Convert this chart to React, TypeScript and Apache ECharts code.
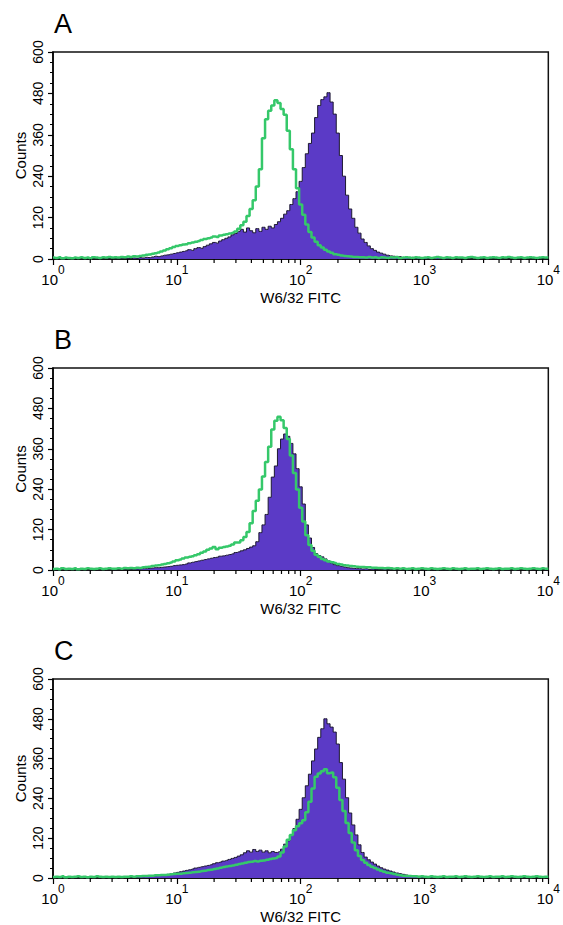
import React, { useEffect, useRef } from 'react';
import * as echarts from 'echarts';

// histogram channel width in log10 units (channel i sits at 10^(i*BIN_STEP))
const BIN_STEP = 0.025;
const X_EXPONENTS = [0, 1, 2, 3, 4];
const MINOR_MULTIPLIERS = [2, 3, 4, 5, 6, 7, 8, 9];
const PANEL_LABELS = ['A', 'B', 'C'];
const X_TITLE = 'W6/32 FITC';
const Y_TITLE = 'Counts';

// Panel A
const greenA = [
  4, 3, 5, 2, 4, 3, 2, 4, 3, 5, 3, 4, 2, 5, 4, 3, 5, 4, 6, 4,
  5, 4, 6, 5, 7, 6, 8, 7, 9, 10, 12, 13, 15, 17, 19, 22, 25, 28, 31, 35,
  38, 40, 42, 43, 46, 48, 50, 52, 55, 58, 60, 62, 65, 64, 68, 70, 72, 74, 76, 80,
  88, 98, 108, 125, 145, 170, 210, 260, 350, 405, 430, 445, 460, 452, 435, 418, 372, 318, 260, 205,
  158, 128, 100, 78, 62, 50, 40, 33, 27, 22, 18, 14, 12, 10, 9, 8, 7, 6, 6, 5,
  5, 4, 6, 4, 5, 3, 5, 4, 3, 5, 4, 6, 3, 4, 5, 4, 3, 5, 4, 3,
  4, 5, 3, 4, 6, 4, 3, 5, 4, 3, 5, 4, 4, 3, 5, 6, 4, 3, 4, 5,
  3, 4, 5, 4, 3, 5, 4, 6, 4, 3, 4, 5, 3, 4, 5, 4, 3, 4, 5, 4,
  4,
];
const purpleA = [
  0, 0, 1, 0, 0, 1, 0, 0, 1, 0, 0, 1, 0, 1, 0, 1, 0, 2, 1, 0,
  1, 0, 2, 1, 2, 1, 3, 2, 4, 3, 5, 4, 6, 8, 7, 9, 11, 12, 14, 16,
  18, 20, 22, 24, 27, 25, 30, 33, 31, 36, 40, 44, 48, 46, 52, 56, 60, 64, 70, 74,
  80, 86, 78, 90, 82, 76, 88, 80, 92, 86, 95, 90, 100, 108, 118, 130, 140, 158, 175, 195,
  225, 265, 305, 335, 365, 410, 445, 462, 470, 482, 455, 420, 365, 300, 240, 185, 145, 118, 92, 75,
  58, 48, 38, 30, 25, 20, 17, 14, 11, 9, 8, 6, 7, 4, 6, 3, 5, 2, 4, 3,
  4, 2, 3, 1, 4, 2, 0, 3, 1, 2, 0, 1, 2, 0, 1, 0, 1, 0, 0, 1,
  0, 0, 1, 0, 0, 0, 1, 0, 0, 0, 0, 1, 0, 0, 0, 0, 0, 1, 0, 0,
  0,
];

// Panel B
const greenB = [
  3, 4, 2, 5, 3, 4, 3, 5, 2, 4, 3, 5, 4, 3, 4, 5, 3, 4, 5, 4,
  4, 5, 4, 6, 5, 6, 5, 7, 6, 8, 9, 10, 12, 13, 14, 16, 18, 20, 22, 25,
  29, 31, 34, 37, 39, 41, 44, 47, 51, 55, 60, 64, 68, 62, 66, 68, 70, 72, 76, 82,
  82, 88, 98, 113, 139, 175, 206, 239, 278, 321, 366, 417, 443, 455, 445, 422, 389, 340, 288, 239,
  185, 144, 103, 74, 57, 45, 39, 33, 29, 25, 23, 21, 18, 16, 14, 13, 12, 11, 10, 9,
  9, 8, 8, 7, 7, 6, 6, 5, 6, 5, 4, 5, 4, 5, 3, 4, 5, 3, 4, 5,
  4, 3, 5, 4, 3, 4, 5, 4, 3, 5, 4, 3, 4, 5, 3, 4, 4, 5, 3, 4,
  5, 4, 3, 4, 5, 3, 4, 4, 5, 3, 4, 5, 4, 3, 4, 5, 4, 3, 5, 4,
  4,
];
const purpleB = [
  0, 0, 0, 1, 0, 0, 1, 0, 0, 0, 1, 0, 0, 1, 0, 0, 1, 0, 1, 0,
  0, 1, 1, 2, 1, 2, 2, 3, 3, 4, 4, 5, 6, 7, 7, 8, 9, 10, 11, 13,
  14, 15, 16, 18, 21, 23, 25, 27, 29, 31, 33, 35, 37, 38, 41, 42, 44, 46, 48, 52,
  54, 57, 60, 64, 68, 72, 84, 111, 134, 165, 216, 276, 309, 360, 389, 404, 397, 376, 345, 301,
  247, 196, 134, 95, 67, 49, 43, 39, 33, 27, 21, 16, 13, 11, 9, 7, 6, 5, 4, 4,
  3, 4, 2, 3, 2, 1, 2, 3, 1, 2, 1, 0, 1, 2, 0, 1, 0, 1, 0, 0,
  0, 1, 0, 0, 1, 0, 0, 0, 1, 0, 0, 0, 0, 1, 0, 0, 0, 0, 1, 0,
  0, 0, 0, 0, 1, 0, 0, 0, 0, 0, 0, 0, 1, 0, 0, 0, 0, 0, 0, 0,
  0,
];

// Panel C
const greenC = [
  3, 4, 3, 5, 2, 4, 3, 4, 5, 3, 4, 2, 4, 3, 5, 4, 3, 4, 3, 4,
  3, 4, 3, 4, 4, 5, 4, 5, 5, 6, 6, 7, 7, 8, 8, 9, 9, 10, 11, 12,
  13, 13, 14, 15, 16, 17, 18, 19, 21, 22, 24, 25, 27, 29, 31, 33, 35, 36, 38, 40,
  42, 44, 46, 48, 49, 51, 50, 52, 53, 55, 57, 59, 60, 65, 77, 95, 115, 130, 144, 156,
  165, 174, 198, 230, 270, 305, 315, 322, 328, 316, 318, 304, 272, 235, 202, 166, 136, 107, 84, 66,
  54, 46, 39, 34, 30, 26, 22, 19, 16, 14, 12, 10, 8, 7, 6, 6, 5, 5, 4, 5,
  4, 3, 5, 4, 3, 4, 5, 3, 4, 4, 5, 3, 4, 5, 4, 3, 4, 5, 4, 3,
  4, 5, 3, 4, 4, 5, 3, 4, 5, 4, 3, 4, 5, 4, 3, 4, 5, 4, 3, 4,
  4,
];
const purpleC = [
  0, 0, 1, 0, 0, 0, 1, 0, 0, 1, 0, 0, 0, 1, 0, 1, 0, 0, 1, 0,
  1, 1, 2, 2, 3, 2, 3, 3, 4, 4, 5, 5, 6, 7, 8, 9, 10, 11, 13, 15,
  17, 19, 21, 23, 25, 27, 30, 32, 34, 36, 38, 40, 43, 46, 48, 51, 53, 56, 59, 62,
  66, 70, 76, 82, 78, 86, 80, 84, 78, 82, 76, 80, 77, 79, 87, 102, 112, 129, 149, 177,
  207, 242, 278, 313, 353, 389, 424, 450, 480, 465, 455, 440, 404, 348, 298, 242, 196, 160, 130, 100,
  77, 63, 55, 48, 42, 36, 31, 27, 24, 21, 18, 15, 13, 11, 9, 7, 6, 5, 5, 3,
  3, 2, 3, 1, 2, 1, 0, 2, 1, 0, 1, 0, 0, 1, 0, 0, 1, 0, 0, 0,
  0, 0, 0, 0, 0, 1, 0, 0, 0, 0, 0, 0, 0, 0, 0, 1, 0, 0, 0, 0,
  0,
];

const GREENS = [greenA, greenB, greenC];
const PURPLES = [purpleA, purpleB, purpleC];

const FONT = '"Liberation Sans", Arial, Helvetica, sans-serif';
const GRIDS = [
  { top: 52, height: 207 },
  { top: 368, height: 202 },
  { top: 679, height: 204 },
];
const GRID_LEFT = 53;
const GRID_WIDTH = 500;

const toPairs = (arr: number[]) => arr.map((v, i) => [i * BIN_STEP, v]);

export default function App() {
  const ref = useRef<HTMLDivElement>(null);

  useEffect(() => {
    if (!ref.current) return;
    const chart = echarts.init(ref.current, undefined, { renderer: 'svg' });

    const minorTicks: number[][] = [];
    X_EXPONENTS.slice(0, -1).forEach((d) =>
      MINOR_MULTIPLIERS.forEach((m) => minorTicks.push([d + Math.log10(m), 0]))
    );

    const grid = GRIDS.map((g) => ({
      left: GRID_LEFT,
      top: g.top,
      width: GRID_WIDTH,
      height: g.height,
      show: true,
      borderColor: '#111',
      borderWidth: 1.5,
      backgroundColor: 'transparent',
    }));

    const xAxis = GRIDS.map((_, p) => ({
      gridIndex: p,
      type: 'value',
      min: 0,
      max: 4,
      interval: 1,
      axisLine: { show: true, onZero: false, lineStyle: { color: '#000', width: 1.5 } },
      axisTick: { show: true, length: 6, lineStyle: { color: '#000', width: 1.2 } },
      splitLine: { show: false },
      axisLabel: {
        margin: 5,
        formatter: (v: number) => `{b|10}{s|${v}}`,
        rich: {
          b: { fontSize: 15, lineHeight: 23, verticalAlign: 'bottom', fontFamily: FONT, color: '#000' },
          s: { fontSize: 12, lineHeight: 12, verticalAlign: 'top', fontFamily: FONT, color: '#000' },
        },
      },
      name: X_TITLE,
      nameLocation: 'middle',
      nameGap: 31,
      nameMoveOverlap: false,
      nameTextStyle: { fontSize: 15, fontFamily: FONT, color: '#000' },
    }));

    const yAxis = GRIDS.map((_, p) => ({
      gridIndex: p,
      type: 'value',
      min: 0,
      max: 600,
      interval: 120,
      axisLine: { show: true, lineStyle: { color: '#000', width: 1.5 } },
      axisTick: { show: true, length: 5, lineStyle: { color: '#000', width: 1.2 } },
      minorTick: { show: true, splitNumber: 4, length: 3, lineStyle: { color: '#000', width: 1 } },
      splitLine: { show: false },
      minorSplitLine: { show: false },
      axisLabel: { rotate: 90, margin: 8, fontSize: 14, fontFamily: FONT, color: '#000' },
      name: Y_TITLE,
      nameLocation: 'middle',
      nameGap: 25,
      nameMoveOverlap: false,
      nameTextStyle: { fontSize: 15, fontFamily: FONT, color: '#000' },
    }));

    const series: any[] = [];
    GRIDS.forEach((_, p) => {
      series.push({
        type: 'line',
        xAxisIndex: p,
        yAxisIndex: p,
        data: toPairs(PURPLES[p]),
        step: 'middle',
        symbol: 'none',
        lineStyle: { color: '#1c1830', width: 1 },
        areaStyle: { color: '#5b3ac6', opacity: 1 },
        z: 2,
      });
      series.push({
        type: 'line',
        xAxisIndex: p,
        yAxisIndex: p,
        data: toPairs(GREENS[p]),
        step: 'middle',
        symbol: 'none',
        lineStyle: { color: '#35c86a', width: 2.5 },
        z: 3,
      });
      series.push({
        type: 'custom',
        xAxisIndex: p,
        yAxisIndex: p,
        data: minorTicks,
        clip: false,
        silent: true,
        z: 4,
        renderItem: (_params: any, api: any) => {
          const pt = api.coord([api.value(0), 0]);
          return {
            type: 'line',
            shape: { x1: pt[0], y1: pt[1], x2: pt[0], y2: pt[1] + 4 },
            style: { stroke: '#000', lineWidth: 1.2 },
          };
        },
      });
    });

    const title = PANEL_LABELS.map((t, p) => ({
      text: t,
      left: 54,
      top: GRIDS[p].top - 42,
      padding: 0,
      textStyle: { fontSize: 27, fontWeight: 'normal', fontFamily: FONT, color: '#000' },
    }));

    chart.setOption({
      animation: false,
      backgroundColor: '#fff',
      title,
      grid,
      xAxis,
      yAxis,
      series,
    });

    return () => chart.dispose();
  }, []);

  return (
    <div
      ref={ref}
      style={{ position: 'fixed', left: 0, top: 0, width: 563, height: 925 }}
    />
  );
}
